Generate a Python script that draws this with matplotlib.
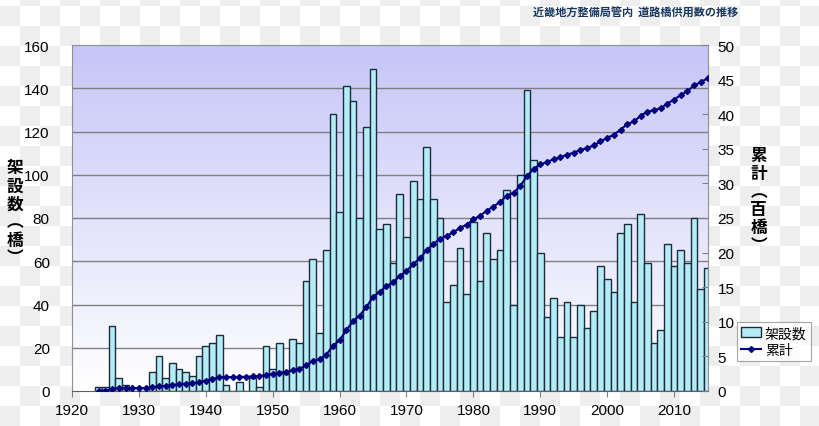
import numpy as np
import matplotlib
matplotlib.use("Agg")
import matplotlib.pyplot as plt

# 年別の架設数(橋)
years = list(range(1924, 2016))
built = [2, 2, 30, 6, 3, 0, 0, 0, 9, 16,
         6, 13, 10, 9, 7, 16, 21, 22, 26, 3,
         0, 4, 0, 6, 2, 21, 10, 22, 8, 24,
         22, 51, 61, 27, 65, 128, 83, 141, 134, 80,
         122, 149, 75, 77, 59, 91, 71, 97, 89, 113,
         89, 80, 41, 49, 66, 45, 78, 51, 73, 61,
         65, 93, 40, 100, 139, 107, 64, 34, 43, 25,
         41, 25, 40, 29, 37, 58, 52, 46, 73, 77,
         41, 82, 59, 22, 28, 68, 58, 65, 59, 80,
         47, 57]
# 累計(百橋)
total = [0.02, 0.04, 0.34, 0.40, 0.43, 0.43, 0.43, 0.43, 0.52, 0.68,
         0.74, 0.87, 0.97, 1.06, 1.13, 1.29, 1.50, 1.72, 1.98, 2.01,
         2.01, 2.05, 2.05, 2.11, 2.13, 2.34, 2.44, 2.66, 2.74, 2.98,
         3.20, 3.71, 4.32, 4.59, 5.24, 6.52, 7.35, 8.76, 10.10, 10.90,
         12.12, 13.61, 14.36, 15.13, 15.72, 16.63, 17.34, 18.31, 19.20, 20.33,
         21.22, 22.02, 22.43, 22.92, 23.58, 24.03, 24.81, 25.32, 26.05, 26.66,
         27.31, 28.24, 28.64, 29.64, 31.03, 32.10, 32.74, 33.08, 33.51, 33.76,
         34.17, 34.42, 34.82, 35.11, 35.48, 36.06, 36.58, 37.04, 37.77, 38.54,
         38.95, 39.77, 40.36, 40.58, 40.86, 41.54, 42.12, 42.77, 43.36, 44.16,
         44.63, 45.20]
x_ticks = list(range(1920, 2020, 10))
left_ticks = list(range(0, 161, 20))
right_ticks = list(range(0, 51, 5))

CJK = ["Noto Sans CJK JP", "DejaVu Sans"]
plt.rcParams["font.family"] = ["Liberation Sans", "DejaVu Sans"]

fig = plt.figure(figsize=(8.2, 4.27), dpi=100)

# 背景の市松模様(元画像の透過表示)
bg = fig.add_axes([0, 0, 1, 1], zorder=-10)
cells = (np.indices((22, 41)).sum(axis=0) % 2).astype(float)
bg.imshow(cells, cmap=matplotlib.colors.ListedColormap(["#ffffff", "#eeeeee"]),
          extent=[0, 820, 427, -13], aspect="auto", interpolation="nearest")
bg.set_xlim(0, 820)
bg.set_ylim(427, 0)
bg.axis("off")

ax = fig.add_axes([72 / 820, 35 / 427, 636 / 820, 346 / 427])
ax.set_xlim(1920, 2015.07)
ax.set_ylim(0, 160)

# プロットエリアのグラデーション
grad = np.linspace(0, 1, 256).reshape(-1, 1)
cmap = matplotlib.colors.LinearSegmentedColormap.from_list("g", ["#ffffff", "#c6c6f8"])
ax.imshow(grad, cmap=cmap, extent=[1920, 2015.07, 0, 160], origin="lower",
          aspect="auto", zorder=0)

for v in left_ticks[1:-1]:
    ax.axhline(v, color="#808080", lw=1, zorder=1)

ax.bar(years, built, width=1.0, color="#b4ecf6", edgecolor="#1c2b3c",
       linewidth=1.0, zorder=2, label="架設数")

ax.set_xticks(x_ticks)
ax.set_yticks(left_ticks)
ax.tick_params(axis="x", direction="out", length=4, color="#808080",
               labelsize=11, pad=5)
ax.tick_params(axis="y", length=0, labelsize=11, pad=16)
for s in ["top", "left", "right"]:
    ax.spines[s].set_color("#909090")
ax.spines["bottom"].set_color("#606060")

ax2 = ax.twinx()
ax2.set_ylim(0, 50)
ax2.plot(years, total, color="#000080", lw=1.5, marker="D", markersize=3,
         zorder=5, label="累計")
ax2.set_yticks(right_ticks)
ax2.tick_params(axis="y", direction="in", length=4, color="#808080",
                labelsize=11, pad=7)
for s in ax2.spines.values():
    s.set_visible(False)

fig.text(0.018, 0.5, "架\n設\n数\n︵\n橋\n︶", family=CJK, fontsize=12,
         fontweight="bold", ha="center", va="center", linespacing=1.0)
fig.text(0.925, 0.53, "累\n計\n︵\n百\n橋\n︶", family=CJK, fontsize=12,
         fontweight="bold", ha="center", va="center", linespacing=1.0)
fig.text(0.9, 0.968, "近畿地方整備局管内  道路橋供用数の推移", family=CJK,
         fontsize=8, fontweight="bold", color="#17375e", ha="right", va="center")

h1, l1 = ax.get_legend_handles_labels()
h2, l2 = ax2.get_legend_handles_labels()
leg = fig.legend(h1 + h2, l1 + l2, loc="upper left",
                 bbox_to_anchor=(737 / 820, 1 - 323 / 427),
                 prop={"family": CJK, "size": 10}, frameon=True, fancybox=False,
                 edgecolor="#909090", borderpad=0.3, handlelength=1.4,
                 handletextpad=0.3, labelspacing=0.2, borderaxespad=0)
leg.get_frame().set_linewidth(0.8)

fig.savefig("out.png", dpi=100)
